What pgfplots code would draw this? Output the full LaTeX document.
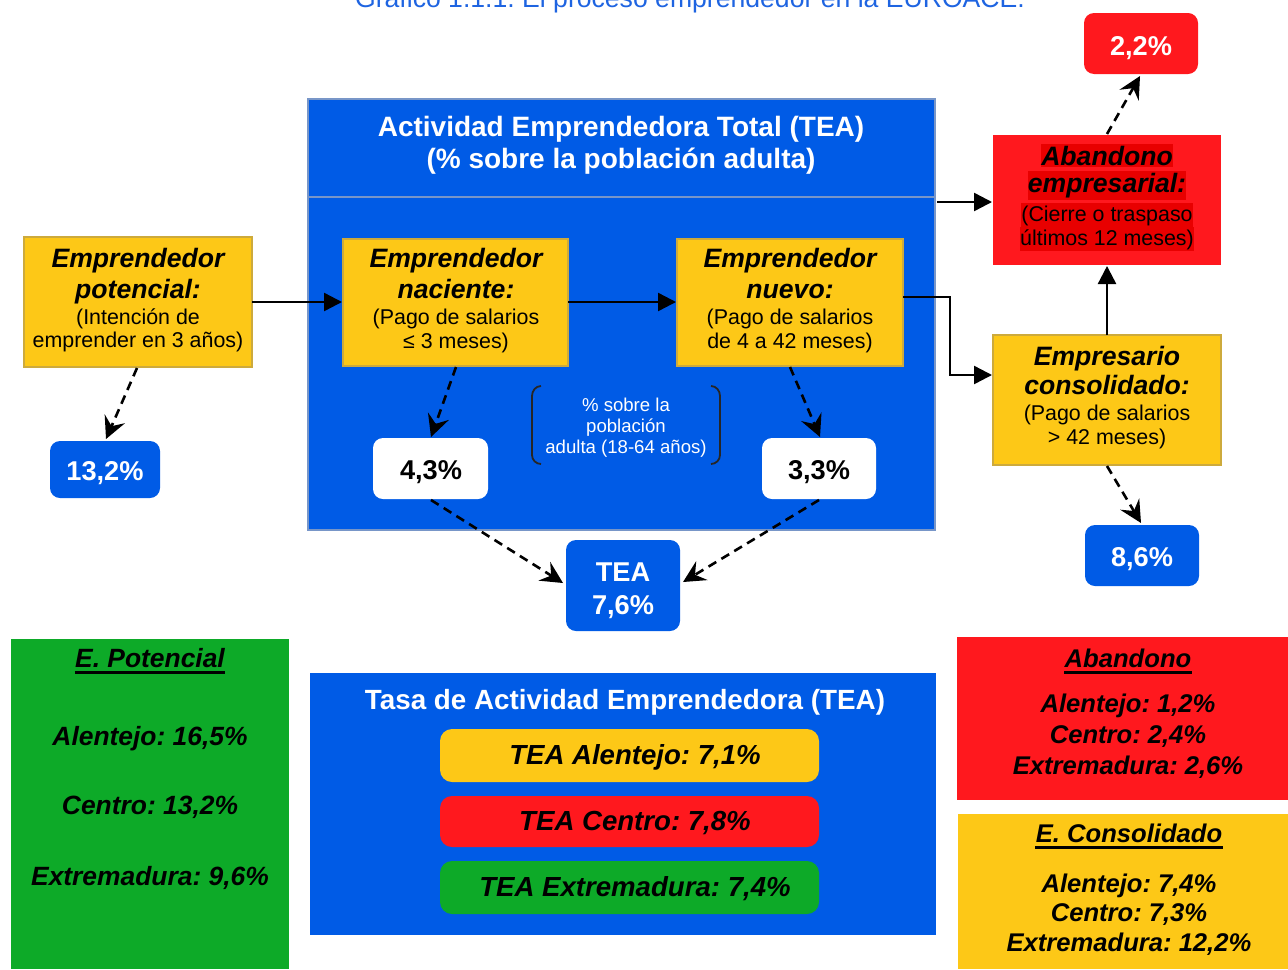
\documentclass[border=0pt]{standalone}
\usepackage{fontspec}
\setmainfont{Liberation Sans}
\usepackage{pgfplots}
\pgfplotsset{compat=1.18}
\usetikzlibrary{arrows.meta}
\frenchspacing

\definecolor{eblue}{RGB}{0,91,230}
\definecolor{eyellow}{RGB}{253,200,23}
\definecolor{ered}{RGB}{255,24,30}
\definecolor{ehl}{RGB}{232,0,0}
\definecolor{egreen}{RGB}{13,170,40}
\definecolor{etitle}{RGB}{30,100,225}
\definecolor{eedge}{RGB}{120,150,200}
\definecolor{yedge}{RGB}{205,170,60}

\newcommand{\bi}[1]{\fontsize{#1}{#1}\selectfont\bfseries\itshape\ignorespaces}
\newcommand{\bo}[1]{\fontsize{#1}{#1}\selectfont\bfseries\ignorespaces}
\newcommand{\rg}[1]{\fontsize{#1}{#1}\selectfont\ignorespaces}
% one line of text, placed on its baseline
\newcommand{\T}[4]{\node[anchor=base,inner sep=0pt] at (#1,#2) {#3#4};}
\newcommand{\HL}[3]{\node[anchor=base,fill=ehl,inner xsep=0pt,inner ysep=1pt] at (#1,#2) {#3};}

\tikzset{
  sar/.style={line width=1.2pt,-{Triangle[length=9pt,width=9pt]}},
  dar/.style={line width=1.3pt,dash pattern=on 4.5pt off 3pt,
              -{Stealth[length=11pt,width=11pt,inset=4pt]}},
}

\begin{document}
\begin{tikzpicture}
\begin{axis}[
  width=644pt, height=484.5pt, scale only axis,
  xmin=0, xmax=1288, ymin=0, ymax=969, y dir=reverse,
  axis lines=none, clip=false,
]
% title (cut at the top, as in the source)
\T{690}{8}{\color{etitle}\rg{13.3}}{Gráfico 1.1.1. El proceso emprendedor en la EUROACE.}

% TEA frame
\draw[eedge,line width=0.8pt,fill=eblue] (308,99) rectangle (935,530);
\draw[eedge,line width=0.8pt] (308,197) -- (935,197);
\T{621}{136}{\color{white}\bo{14}}{Actividad Emprendedora Total (TEA)}
\T{621}{168}{\color{white}\bo{14}}{(\% sobre la población adulta)}

% yellow stage boxes
\draw[yedge,line width=0.6pt,fill=eyellow] (24,237) rectangle (252,367);
\T{138}{267}{\bi{13.3}}{Emprendedor}
\T{138}{298}{\bi{13.3}}{potencial:}
\T{138}{324}{\rg{10.7}}{(Intención de}
\T{138}{347}{\rg{10.7}}{emprender en 3 años)}

\draw[yedge,line width=0.6pt,fill=eyellow] (343,239) rectangle (568,366);
\T{456}{267}{\bi{13.3}}{Emprendedor}
\T{456}{298}{\bi{13.3}}{naciente:}
\T{456}{324}{\rg{10.7}}{(Pago de salarios}
\T{456}{348}{\rg{10.7}}{≤ 3 meses)}

\draw[yedge,line width=0.6pt,fill=eyellow] (677,239) rectangle (903,366);
\T{790}{267}{\bi{13.3}}{Emprendedor}
\T{790}{298}{\bi{13.3}}{nuevo:}
\T{790}{324}{\rg{10.7}}{(Pago de salarios}
\T{790}{348}{\rg{10.7}}{de 4 a 42 meses)}

\draw[yedge,line width=0.6pt,fill=eyellow] (993,335) rectangle (1221,465);
\T{1107}{365}{\bi{13.3}}{Empresario}
\T{1107}{394}{\bi{13.3}}{consolidado:}
\T{1107}{420}{\rg{10.7}}{(Pago de salarios}
\T{1107}{444}{\rg{10.7}}{> 42 meses)}

\fill[ered] (993,135) rectangle (1221,265);
\HL{1107}{165}{\bi{13.3}Abandono}
\HL{1107}{192}{\bi{13.3}empresarial:}
\HL{1107}{221}{\rg{10.7}(Cierre o traspaso}
\HL{1107}{245}{\rg{10.7}últimos 12 meses)}

% bracket note
\draw[black!85,line width=0.9pt] (541,386) to[out=180,in=90] (532,396) -- (532,455) to[out=-90,in=180] (541,464);
\draw[black!85,line width=0.9pt] (711,386) to[out=0,in=90] (720,396) -- (720,455) to[out=-90,in=0] (711,464);
\T{626}{411}{\color{white}\rg{9.3}}{\% sobre la}
\T{626}{432}{\color{white}\rg{9.3}}{población}
\T{626}{453}{\color{white}\rg{9.3}}{adulta (18-64 años)}

% value boxes
\fill[eblue,rounded corners=5pt] (50,441) rectangle (160,498);
\T{105}{480}{\color{white}\bo{13.6}}{13,2\%}
\fill[white,rounded corners=5pt] (373,438) rectangle (488,499);
\T{431}{479}{\bo{13.6}}{4,3\%}
\fill[white,rounded corners=5pt] (762,438) rectangle (876,499);
\T{819}{479}{\bo{13.6}}{3,3\%}
\fill[eblue,rounded corners=5pt] (566,540) rectangle (680,631);
\T{623}{581}{\color{white}\bo{13.6}}{TEA}
\T{623}{614}{\color{white}\bo{13.6}}{7,6\%}
\fill[ered,rounded corners=5pt] (1084,13) rectangle (1198,74);
\T{1141}{55}{\color{white}\bo{13.6}}{2,2\%}
\fill[eblue,rounded corners=5pt] (1085,525) rectangle (1199,586);
\T{1142}{566}{\color{white}\bo{13.6}}{8,6\%}

% solid arrows
\draw[sar] (252,302) -- (342,302);
\draw[sar] (568,302) -- (676,302);
\draw[sar] (903,297) -- (950,297) -- (950,375) -- (992,375);
\draw[sar] (937,202) -- (992,202);
\draw[sar] (1107,335) -- (1107,266);

% dashed arrows
\draw[dar] (137,368) -- (106,439);
\draw[dar] (456,367) -- (431,437);
\draw[dar] (790,367) -- (820,437);
\draw[dar] (431,500) -- (563,583);
\draw[dar] (819,500) -- (683,582);
\draw[dar] (1107,134) -- (1140,76);
\draw[dar] (1107,466) -- (1141,523);

% bottom: E. Potencial
\fill[egreen] (11,639) rectangle (289,969);
\node[anchor=base,inner sep=0pt] (hp) at (150,667) {\bi{13.2}E. Potencial};
\draw[line width=1.4pt] ([yshift=-2.6pt]hp.base west) -- ([yshift=-2.6pt]hp.base east);
\T{150}{745}{\bi{13.2}}{Alentejo: 16,5\%}
\T{150}{814}{\bi{13.2}}{Centro: 13,2\%}
\T{150}{885}{\bi{13.2}}{Extremadura: 9,6\%}

% bottom: TEA by region
\fill[eblue] (310,673) rectangle (936,935);
\T{625}{709}{\color{white}\bo{13.9}}{Tasa de Actividad Emprendedora (TEA)}
\fill[eyellow,rounded corners=6pt] (440,729) rectangle (819,782);
\T{635}{764}{\bi{13.8}}{TEA Alentejo: 7,1\%}
\fill[ered,rounded corners=6pt] (440,796) rectangle (819,847);
\T{635}{830}{\bi{13.8}}{TEA Centro: 7,8\%}
\fill[egreen,rounded corners=6pt] (440,861) rectangle (819,914);
\T{635}{896}{\bi{13.8}}{TEA Extremadura: 7,4\%}

% bottom: Abandono
\fill[ered] (957,637) rectangle (1288,800);
\node[anchor=base,inner sep=0pt] (ha) at (1128,667) {\bi{12.8}Abandono};
\draw[line width=1.4pt] ([yshift=-2.6pt]ha.base west) -- ([yshift=-2.6pt]ha.base east);
\T{1128}{712}{\bi{12.8}}{Alentejo: 1,2\%}
\T{1128}{743}{\bi{12.8}}{Centro: 2,4\%}
\T{1128}{774}{\bi{12.8}}{Extremadura: 2,6\%}

% bottom: E. Consolidado
\fill[eyellow] (958,814) rectangle (1288,969);
\node[anchor=base,inner sep=0pt] (hc) at (1129,842) {\bi{12.8}E. Consolidado};
\draw[line width=1.4pt] ([yshift=-2.6pt]hc.base west) -- ([yshift=-2.6pt]hc.base east);
\T{1129}{892}{\bi{12.8}}{Alentejo: 7,4\%}
\T{1129}{921}{\bi{12.8}}{Centro: 7,3\%}
\T{1129}{951}{\bi{12.8}}{Extremadura: 12,2\%}
\end{axis}
\pgfresetboundingbox
\path (current axis.south west) rectangle (current axis.north east);
\end{tikzpicture}
\end{document}
